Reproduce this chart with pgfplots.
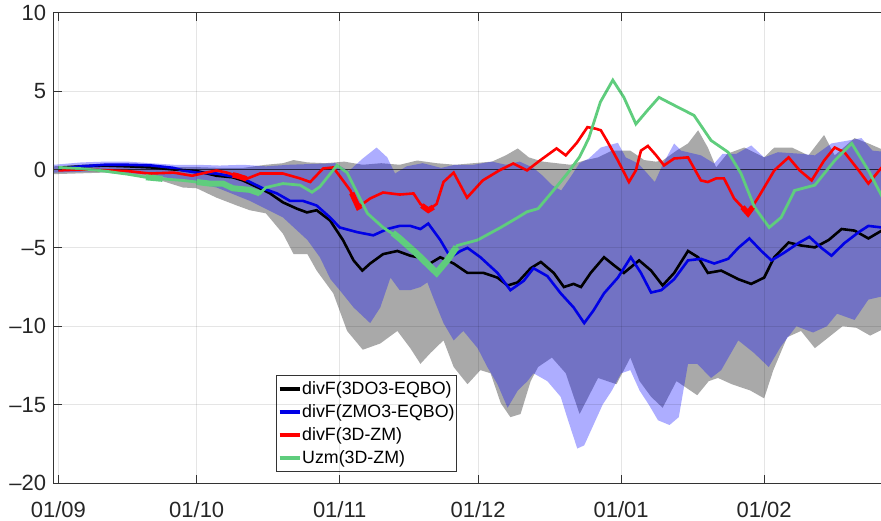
\documentclass[border=0pt]{standalone}
\usepackage{pgfplots}
\pgfplotsset{compat=1.18}
\usepgfplotslibrary{fillbetween}
\usepackage{fontspec}
\setmainfont{Liberation Sans}
\definecolor{mgreen}{RGB}{95,205,125}
\definecolor{mblue}{RGB}{0,0,230}
\definecolor{bandgray}{RGB}{169,169,169}
\begin{document}
\begin{tikzpicture}
\begin{axis}[
  at={(0,0)}, anchor=south west,
  scale only axis, width=881.1bp, height=470.3bp,
  xmin=-1, xmax=190, ymin=-20, ymax=10,
  xtick={0,30,61,91,122,153},
  xticklabels={01/09,01/10,01/11,01/12,01/01,01/02},
  ytick={-20,-15,-10,-5,0,5,10},
  yticklabels={\textendash20,\textendash15,\textendash10,\textendash5,0,5,10},
  tick align=inside,
  major tick length=8bp,
  grid=major,
  major grid style={black, opacity=0.1, line width=0.8bp},
  axis on top,
  axis line style={black!80, line width=1bp},
  every tick/.style={black!80, line width=0.8bp},
  ticklabel style={font=\fontsize{22bp}{25bp}\selectfont, text=black!85},
  xticklabel style={yshift=-15bp},
  yticklabel style={xshift=-4bp},
  legend cell align=left,
  legend image code/.code={\draw[#1, line width=3.8bp] (0bp,0bp) -- (20bp,0bp);},
  legend style={at={(0.252,0.024)}, anchor=south west, draw=black!80, line width=0.8bp,
    fill=white, font=\fontsize{17.8bp}{20bp}\selectfont, inner xsep=1.5bp, inner ysep=3.8bp, row sep=4bp,
    nodes={text height=14.5bp, text depth=4.5bp, inner xsep=0.8bp, inner ysep=0bp}},
]
% gray band
\addplot[draw=none, name path=gu, forget plot] coordinates {
(-1,0.2)(5,0.3)(10,0.35)(15,0.3)(20,0.2)(25,0.15)(30,0.15)(35,0.1)(40,0.1)(45,0.3)(48.7,0.4)(51,0.6)(54,0.45)(58,0.4)(62,0.5)(66,0.3)(70,0.4)(74,0.3)(77.8,0.57)(82,0.4)(86,0.3)(90,0.4)(94,0.5)(97,0.9)(99.6,1.34)(102,0.77)(105,0.5)(108,0.4)(111,0.3)(114,0.57)(117,0.77)(120,1.2)(124,1.2)(127,0.6)(129.5,0.5)(131,0.57)(134,1.2)(136.5,1.66)(138.7,2.5)(140.8,1.4)(142.6,0.13)(145,1.0)(148.7,1.4)(153,0.77)(155.2,1.4)(159,1.4)(162.6,0.9)(166,2.2)(168.3,0.9)(172.6,2.0)(175.6,1.66)(180,1.1)};
\addplot[draw=none, name path=gl, forget plot] coordinates {
(-1,-0.3)(10,-0.2)(20,-0.5)(27,-1.15)(30,-1.2)(34.3,-1.8)(38.7,-2.3)(41.5,-2.6)(45,-2.8)(48.7,-4.1)(51,-5.4)(54,-5.4)(56,-6.45)(59.6,-7.9)(62.6,-10.3)(66,-11.5)(69.8,-11.1)(73.5,-10.3)(76.3,-11.4)(78.5,-12.4)(80.7,-11.7)(83.5,-10.9)(85.7,-12.6)(88.7,-13.7)(91.5,-12.8)(93.7,-13.0)(95.9,-14.9)(98,-15.8)(100.2,-15.6)(102.4,-13.5)(104,-12.6)(107,-12.0)(110,-13.0)(113,-15.6)(117,-13.3)(121,-13.7)(124,-12.0)(126,-13.5)(128.5,-14.5)(131,-15.2)(134,-13.5)(136.5,-14.0)(138.5,-14.4)(141,-13.5)(143,-13.3)(146,-13.7)(150,-14.1)(153,-14.6)(155,-12.8)(158,-10.7)(161,-10.3)(164,-11.4)(167,-10.7)(170,-10.0)(173,-10.1)(176,-10.6)(180,-10.0)};
\addplot[bandgray, forget plot] fill between[of=gu and gl];
% black line
\addplot[black, line width=2.6bp] coordinates {
(0,0.1)(5,0.2)(10,0.25)(15,0.2)(20,0.13)(25,0.0)(30,-0.1)(34.3,-0.4)(37.8,-0.5)(40,-0.7)(43.7,-1.2)(45.9,-1.53)(48.7,-2.1)(51.7,-2.5)(53.9,-2.74)(56,-2.6)(58.9,-3.25)(61.7,-4.5)(64,-5.8)(65.9,-6.45)(67.6,-6.0)(70.4,-5.4)(73.5,-5.2)(76.3,-5.5)(78,-5.6)(80,-6.1)(82.8,-5.6)(85.7,-6.0)(88.7,-6.6)(92.2,-6.6)(95.2,-6.9)(97.4,-7.4)(99.6,-7.2)(102.4,-6.3)(104.6,-5.9)(107.4,-6.6)(109.6,-7.5)(111.7,-7.3)(113.3,-7.5)(115.4,-6.6)(118.3,-5.6)(120.4,-6.1)(122.6,-6.6)(125.9,-5.8)(128.5,-6.45)(131,-7.4)(133.5,-6.6)(136.5,-5.2)(138.7,-5.6)(140.8,-6.6)(143.7,-6.45)(147.4,-7.0)(150.2,-7.3)(153,-6.9)(155.2,-5.6)(158.3,-4.66)(161,-4.85)(164,-4.97)(167,-4.5)(169.8,-3.8)(172.6,-3.9)(175.6,-4.4)(178.5,-3.9)(180,-3.8)};
\addlegendentry{divF(3DO3-EQBO)}
% blue line
\addplot[mblue, line width=2.6bp] coordinates {
(0,0.0)(5,0.2)(10,0.3)(15,0.3)(20,0.26)(25,0.1)(27,-0.06)(30,-0.2)(34.3,-0.26)(40,-0.57)(44.3,-1.2)(47.4,-1.53)(50.2,-2.0)(53,-2.0)(56,-2.3)(58.9,-3.06)(61,-3.7)(64.8,-4.0)(68.3,-4.2)(71.3,-3.8)(74,-3.6)(76.3,-3.6)(78.5,-3.8)(80.2,-3.45)(82.8,-4.5)(85,-5.6)(87.2,-5.2)(88.7,-5.0)(91.5,-5.6)(95.2,-6.6)(98,-7.7)(100.9,-7.1)(103,-6.3)(106,-6.8)(108.9,-7.9)(111.7,-8.8)(114,-9.8)(116,-9.0)(118.3,-7.9)(121.3,-6.9)(124.1,-5.6)(126.3,-6.6)(128.5,-7.85)(130.7,-7.7)(133.5,-7.0)(136.5,-5.8)(139.3,-5.7)(142.2,-6.0)(145.2,-5.7)(147.4,-5.0)(149.8,-4.4)(152.4,-5.2)(154.6,-5.8)(157.4,-5.3)(160.4,-4.7)(162.8,-4.3)(165.4,-5.0)(167.6,-5.5)(170.4,-4.7)(173.5,-4.0)(175.6,-3.6)(178.5,-3.7)(180,-3.6)};
\addlegendentry{divF(ZMO3-EQBO)\hspace{6bp}}
% blue band
\addplot[draw=none, name path=bu, forget plot] coordinates {
(-1,0.3)(5,0.45)(10,0.5)(15,0.5)(20,0.4)(25,0.3)(30,0.3)(35,0.25)(40,0.3)(45,0.2)(50,0.3)(55,0.35)(60,0.4)(63,-0.1)(66,0.7)(69,1.4)(71.3,0.77)(73,-0.26)(75.5,0.2)(79,0.4)(83,0.1)(86,0.3)(90,0.3)(94,0.5)(97,0.3)(100,0.5)(103,0.1)(105,-0.4)(107,-1.0)(109,-1.34)(111,-0.5)(113,0.4)(115,0.7)(117.6,1.4)(121.3,1.7)(123,0.77)(125.7,0.38)(127.5,-0.2)(129.3,-0.8)(131,0.3)(133.5,1.66)(135,1.2)(139.3,0.9)(142.2,0.38)(144,1.0)(147,1.0)(150.2,1.53)(153,0.77)(156,1.1)(161,1.0)(164,0.9)(167.6,1.66)(171.3,1.85)(174.1,2.0)(176.5,1.2)(180,1.1)};
\addplot[draw=none, name path=bl, forget plot] coordinates {
(-1,-0.2)(10,-0.1)(20,-0.35)(27,-0.7)(34.3,-1.15)(41.5,-2.0)(48.7,-3.06)(54,-4.5)(56.7,-5.6)(59,-7.0)(61,-7.7)(64,-8.8)(67.6,-9.8)(69.8,-8.8)(72,-6.9)(74,-7.7)(76.3,-7.7)(78.5,-7.5)(80,-7.2)(81.3,-8.2)(83.5,-9.8)(85.7,-10.9)(87.8,-10.3)(90.9,-11.4)(93,-12.6)(95.2,-13.7)(97.4,-15.2)(99.6,-14.1)(101.7,-13.5)(103,-13.0)(106,-13.5)(108.9,-14.5)(110.5,-16.0)(112.5,-17.8)(114,-17.6)(116,-16.3)(118,-15.0)(120,-14.1)(122,-13.0)(124,-12.8)(126,-14.1)(128,-15.0)(130,-16.0)(132.5,-16.3)(134.5,-15.8)(136.5,-12.4)(138.5,-12.4)(141.5,-13.3)(143.7,-12.8)(147.4,-10.9)(150.8,-11.7)(154,-12.6)(156.6,-11.3)(160,-10.0)(163.6,-10.4)(166.6,-10.0)(168.8,-9.2)(172.6,-9.6)(175.6,-8.3)(180,-8.0)};
\addplot[blue, fill opacity=0.32, forget plot] fill between[of=bu and bl];
% zero line
\addplot[black, opacity=0.65, line width=1.1bp, forget plot] coordinates {(-1,0)(190,0)};
% red line
\addplot[red, line width=2.6bp] coordinates {
(0,-0.06)(5,0.0)(10,-0.05)(15,-0.1)(19.8,-0.26)(25,-0.2)(29,-0.4)(32,-0.2)(34.3,-0.06)(36.5,-0.2)(38.7,-0.4)(40.8,-0.6)(43.7,-0.26)(48.7,-0.26)(52.4,-0.57)(54.6,-0.8)(57.4,0.06)(59.6,0.13)(61.7,-0.7)(63.3,-1.34)(65,-2.4)(67.6,-1.85)(70.4,-1.47)(74,-1.6)(77,-1.53)(78.5,-2.2)(80.2,-2.6)(82,-2.2)(83.5,-0.8)(85.7,-0.2)(88.6,-1.8)(92,-0.7)(95.6,-0.06)(98.6,0.38)(101.6,-0.06)(104.4,0.57)(108,1.34)(110,0.9)(112.4,1.7)(114.7,2.7)(116.5,2.6)(117.6,2.5)(119,1.8)(121.3,0.57)(123.7,-0.8)(125.2,-0.06)(126.3,1.2)(127.8,1.5)(129.6,0.9)(131.3,0.26)(133.5,0.7)(136.5,0.77)(139.3,-0.7)(140.8,-0.8)(142.6,-0.57)(144.3,-0.57)(146.5,-1.85)(149.5,-2.8)(151.7,-1.8)(155.2,-0.06)(158.3,0.77)(160.7,-0.06)(163.3,-0.7)(166,0.57)(168.3,1.4)(170.4,1.1)(173.5,-0.06)(175.6,-0.9)(178.5,0.13)(180,0.3)};
\addlegendentry{divF(3D-ZM)}
% green line
\addplot[mgreen, line width=2.8bp] coordinates {
(0,0.13)(5,0.05)(10,-0.1)(15,-0.3)(19,-0.5)(22.6,-0.6)(27,-0.7)(30,-0.8)(32.8,-0.9)(35.7,-0.9)(37.8,-1.2)(41.5,-1.3)(43.7,-1.53)(45,-1.15)(48.7,-0.9)(52.4,-1.0)(55,-1.45)(56.7,-1.1)(60.4,0.26)(62.6,-0.2)(64.8,-1.5)(67,-2.8)(70.4,-3.7)(74,-4.4)(77.8,-5.4)(82,-6.6)(84.3,-5.8)(86.5,-4.85)(90.9,-4.5)(95.9,-3.7)(99.6,-3.06)(101.6,-2.7)(104,-2.5)(106,-1.8)(108,-1.1)(110.5,-0.2)(113,0.8)(115,2.0)(117.5,4.3)(120.2,5.7)(122.6,4.6)(125.2,2.9)(127.8,3.8)(130.2,4.6)(132.8,4.2)(137.8,3.45)(141.5,1.85)(145.2,1.1)(148,-0.26)(150.9,-2.4)(154.1,-3.7)(156.7,-3.06)(159.6,-1.34)(164,-1.0)(168.3,0.57)(172,1.66)(175.6,-0.06)(178.7,-1.8)(180,-2.3)};
\addlegendentry{Uzm(3D-ZM)}
% thick (significant) segments
\addplot[red, line width=5.5bp, forget plot] coordinates {(37.8,-0.35)(38.7,-0.4)(40.8,-0.6)};
\addplot[red, line width=5.5bp, forget plot] coordinates {(63.6,-1.5)(65,-2.4)(65.6,-2.3)};
\addplot[red, line width=5.5bp, forget plot] coordinates {(78.8,-2.3)(80.2,-2.6)(81.3,-2.4)};
\addplot[red, line width=5.5bp, forget plot] coordinates {(148.3,-2.4)(149.5,-2.8)(150.5,-2.4)};
\addplot[mgreen, line width=6bp, forget plot] coordinates {(19,-0.5)(22.6,-0.6)};
\addplot[mgreen, line width=6bp, forget plot] coordinates {(30,-0.8)(32.8,-0.9)(35.7,-0.9)(37.8,-1.2)(41.5,-1.3)(43.7,-1.53)};
\addplot[mgreen, line width=6.5bp, forget plot] coordinates {(72.5,-4.05)(74,-4.4)(77.8,-5.4)(82,-6.6)(84.3,-5.8)(86.3,-4.95)};
\end{axis}
\pgfresetboundingbox
\path (-53.7bp,-38bp) rectangle (827.3bp,483bp);
\end{tikzpicture}
\end{document}
